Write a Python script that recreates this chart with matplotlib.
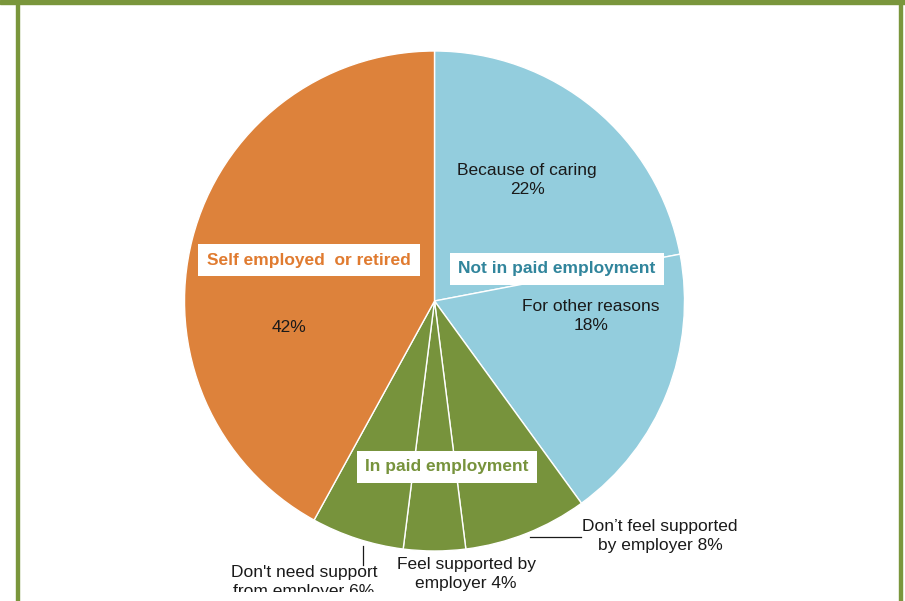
import matplotlib

matplotlib.use("Agg")
import matplotlib.pyplot as plt
from matplotlib.patches import Rectangle

plt.rcParams["font.family"] = ["Liberation Sans", "DejaVu Sans"]

# slices, clockwise from 12 o'clock
slice_names = [
    "Because of caring",
    "For other reasons",
    "Don\u2019t feel supported by employer",
    "Feel supported by employer",
    "Don't need support from employer",
    "Self employed or retired",
]
slice_values = [22, 18, 8, 4, 6, 42]
slice_colors = ["#93cddd", "#93cddd", "#77933c", "#77933c", "#77933c", "#dd823b"]

group_names = ["Not in paid employment", "In paid employment", "Self employed  or retired"]
group_colors = ["#31859c", "#77933c", "#e07b30"]

W, H = 905, 601
cx, cy, r = 434.5, 301, 250

fig = plt.figure(figsize=(W / 100, H / 100), dpi=100)
fig.patch.set_facecolor("white")

# green frame
frame_color = "#7a963c"
fig.add_artist(Rectangle((0, 1 - 4 / H), 1, 4 / H, transform=fig.transFigure,
                         color=frame_color, zorder=0))
fig.add_artist(Rectangle((16 / W, 0), 3 / W, 1, transform=fig.transFigure,
                         color=frame_color, zorder=0))
fig.add_artist(Rectangle((899 / W, 0), 3 / W, 1, transform=fig.transFigure,
                         color=frame_color, zorder=0))

ax = fig.add_axes([(cx - r) / W, (H - cy - r) / H, 2 * r / W, 2 * r / H])
ax.pie(slice_values, colors=slice_colors, startangle=90, counterclock=False,
       radius=1, wedgeprops=dict(edgecolor="white", linewidth=1.0))
ax.set_xlim(-1, 1)
ax.set_ylim(-1, 1)
ax.set_aspect("equal")
ax.axis("off")


def px(x, y):
    # pixel position -> pie data coordinates
    return (x - cx) / r, (cy - y) / r


txt = dict(fontsize=12.5, color="#1a1a1a", ha="center", va="center",
           linespacing=1.28, clip_on=False)

ax.text(*px(527, 180), "Because of caring\n%d%%" % slice_values[0], **txt)
ax.text(*px(591, 316), "For other reasons\n%d%%" % slice_values[1], **txt)
ax.text(*px(289, 328), "%d%%" % slice_values[5], **txt)
ax.text(*px(660, 536), "Don\u2019t feel supported\nby employer %d%%" % slice_values[2], **txt)
ax.text(*px(466, 574), "Feel supported by\nemployer %d%%" % slice_values[3], **txt)
t6 = ax.text(*px(304, 582), "Don't need support\nfrom employer %d%%" % slice_values[4], **txt)
# the bottom of the panel cuts this label
clip = Rectangle((0, 9 / H), 1, 1, transform=fig.transFigure, visible=False)
fig.add_artist(clip)
t6.set_clip_path(clip)
t6.set_clip_on(True)

# leader lines
x0, y0 = px(530, 537)
x1, _ = px(581, 537)
ax.plot([x0, x1], [y0, y0], color="#1a1a1a", lw=0.9, clip_on=False)
xa, ya = px(362.5, 546)
_, yb = px(362.5, 565)
ax.plot([xa, xa], [ya, yb], color="#1a1a1a", lw=0.9, clip_on=False)

# group labels in white boxes
box = dict(boxstyle="square,pad=0.5", facecolor="white", edgecolor="none")
for name, color, (bx, by) in zip(group_names, group_colors,
                                 [(557, 269), (447, 467), (309, 260)]):
    ax.text(*px(bx, by), name, fontsize=12.5, fontweight="bold", color=color,
            ha="center", va="center", bbox=box, clip_on=False)

fig.savefig("out.png", dpi=100)
